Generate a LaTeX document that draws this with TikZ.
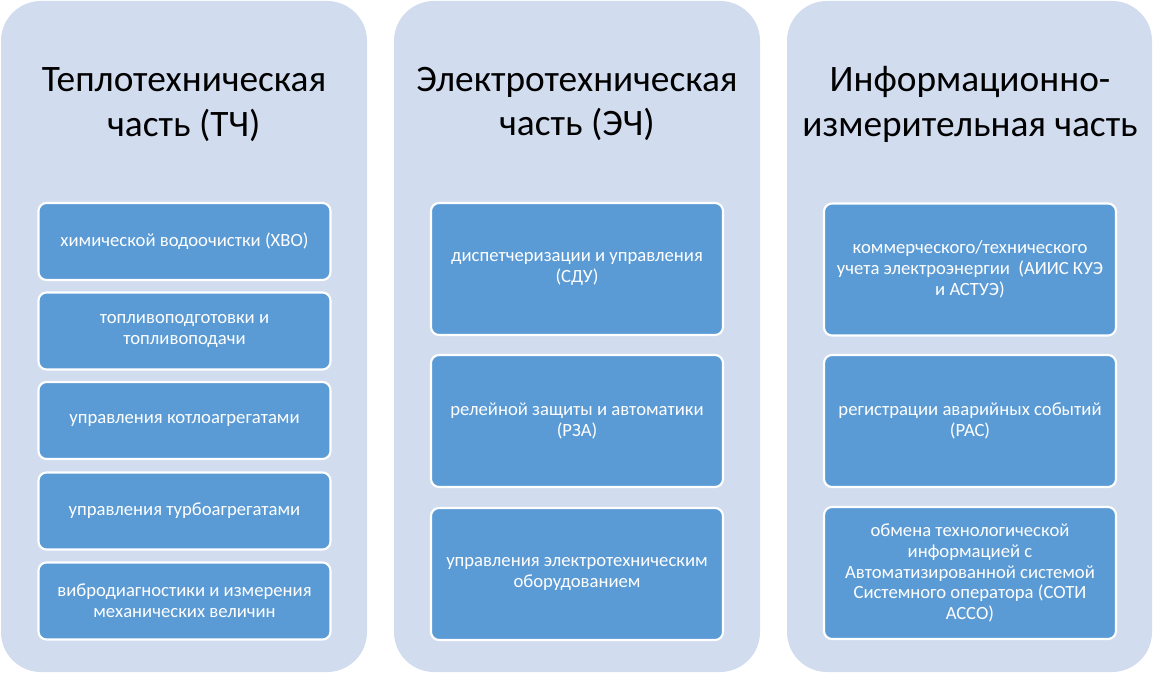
\documentclass[tikz,border=0pt]{standalone}
\usepackage{fontspec}
\setmainfont{Carlito}
\definecolor{panelfill}{HTML}{D1DCEE}
\definecolor{boxfill}{HTML}{5B9BD5}
\begin{document}
\begin{tikzpicture}[x=0.75pt,y=-0.75pt,
  panel/.style={fill=panelfill,draw=none,rounded corners=30pt},
  title/.style={align=center,font=\fontsize{28}{33.7}\selectfont,text=black,inner sep=0pt},
  item/.style={fill=boxfill,draw=white,line width=1.6pt,rounded corners=6pt,align=center,
    text=white,font=\fontsize{14}{15.6}\selectfont,inner sep=0pt},
  short/.style={minimum width=292*0.75pt,minimum height=77*0.75pt},
  tall/.style={minimum width=292*0.75pt,minimum height=132*0.75pt}
]
\useasboundingbox (0,0) rectangle (1153,674);
% panels
\path[panel] (1,1) rectangle (367,672);
\path[panel] (394,1) rectangle (760,672);
\path[panel] (787,1) rectangle (1152,672);
% titles
\node[title] (t1) at (184,105) {Теплотехническая\\часть (ТЧ)};
\node[title] (t2) at (577,104) {Электротехническая\\часть (ЭЧ)};
\node[title] (t3) at (970,104) {Информационно-\\измерительная часть};
% panel 1 boxes
\node[item,short] (b11) at (184.5,241.5) {химической водоочистки (ХВО)};
\node[item,short] (b12) at (184.5,331) {топливоподготовки и\\топливоподачи};
\node[item,short] (b13) at (184.5,420.5) {управления котлоагрегатами};
\node[item,short] (b14) at (184.5,511) {управления турбоагрегатами};
\node[item,short] (b15) at (184.5,601) {вибродиагностики и измерения\\механических величин};
% panel 2 boxes
\node[item,tall] (b21) at (577,269) {диспетчеризации и управления\\(СДУ)};
\node[item,tall] (b22) at (577,421) {релейной защиты и автоматики\\(РЗА)};
\node[item,tall] (b23) at (577,574) {управления электротехническим\\оборудованием};
% panel 3 boxes
\node[item,tall] (b31) at (970,269.5) {коммерческого/технического\\учета электроэнергии\ \ (АИИС КУЭ\\и АСТУЭ)};
\node[item,tall] (b32) at (970,421) {регистрации аварийных событий\\(РАС)};
\node[item,tall] (b33) at (970,573) {обмена технологической\\информацией с\\Автоматизированной системой\\Системного оператора (СОТИ\\АССО)};
\end{tikzpicture}
\end{document}
